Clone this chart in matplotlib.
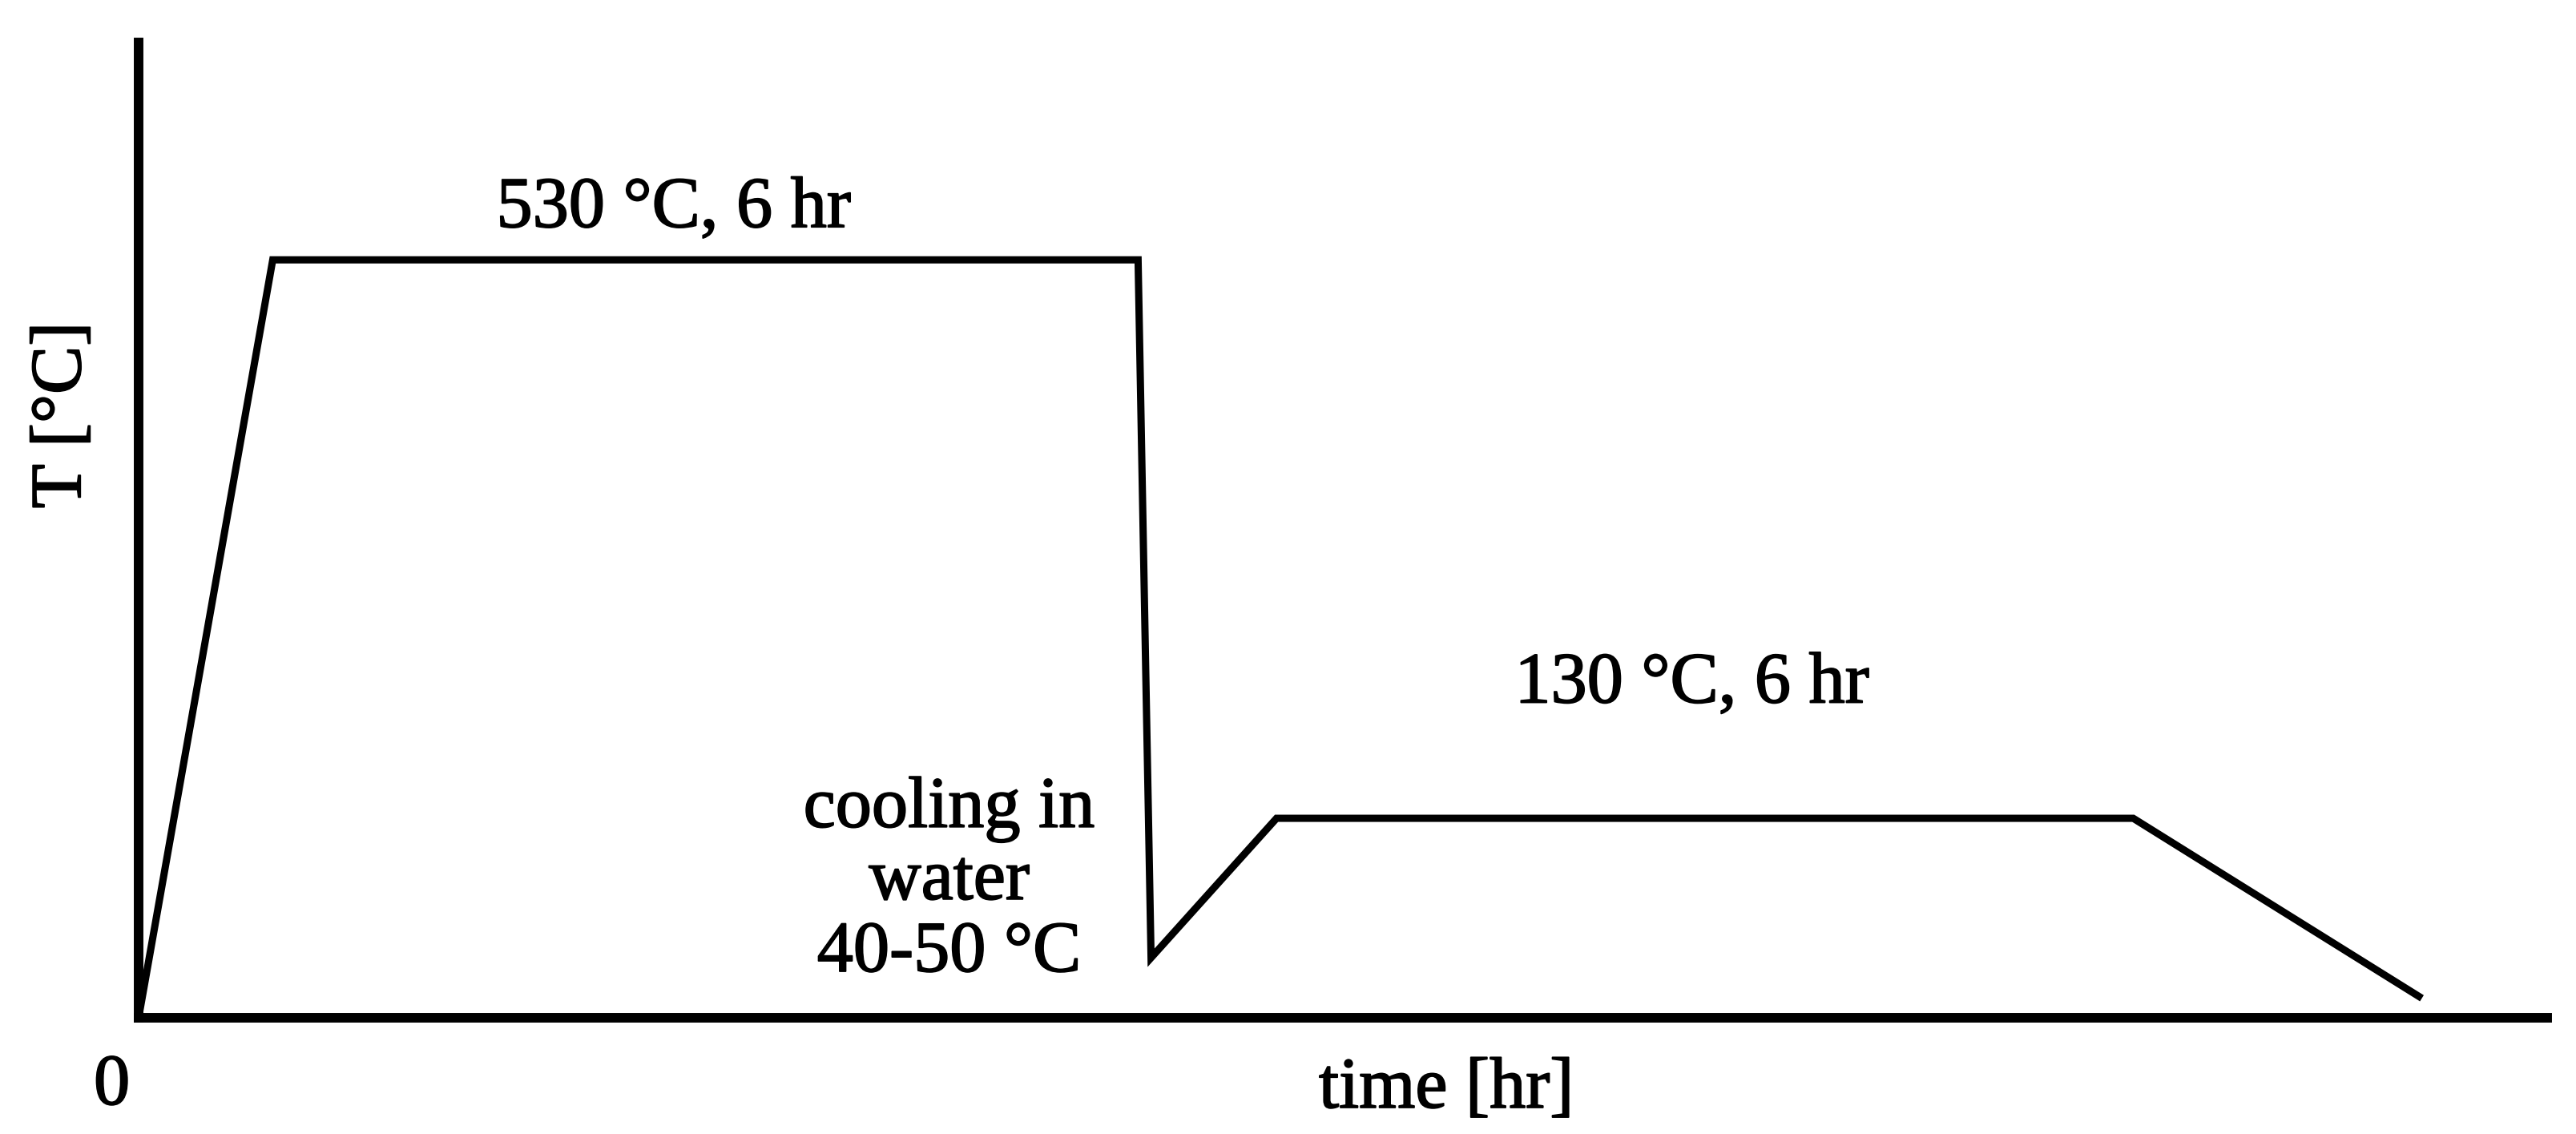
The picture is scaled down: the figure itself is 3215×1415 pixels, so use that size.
import matplotlib
matplotlib.use("Agg")
import matplotlib.pyplot as plt
import matplotlib.patheffects as pe

# schematic heat-treatment cycle
time_hr = [0, 0.93, 6.93, 7.02, 7.89, 13.83, 15.81]
temp_c = [0, 530, 530, 42, 139.5, 139.5, 15]

x_max = 16.7
y_max = 682

plt.rcParams['font.family'] = ['Liberation Serif', 'DejaVu Serif']
fs = 65
# the reference text looks a little heavier than plain regular
bold_ish = [pe.withStroke(linewidth=1.3, foreground='black')]

fig = plt.figure(figsize=(32.15, 14.15), dpi=100)
ax = fig.add_axes([173 / 3215, 145 / 1415, 3006 / 3215, 1217 / 1415])

ax.plot(time_hr, temp_c, color='black', lw=6.5, solid_joinstyle='miter', clip_on=False)

ax.set_xlim(0, x_max)
ax.set_ylim(0, y_max)
for s in ['top', 'right']:
    ax.spines[s].set_visible(False)
for s in ['left', 'bottom']:
    ax.spines[s].set_linewidth(8.6)
ax.set_xticks([])
ax.set_yticks([])

xl = ax.set_xlabel('time [hr]', fontsize=fs, va='baseline')
ax.xaxis.set_label_coords(0.543, -0.092)
yl = ax.set_ylabel('T [°C]', fontsize=fs, ha='center', va='center')
ax.yaxis.set_label_coords(-0.0316, 0.618)
xl.set_path_effects(bold_ish)
yl.set_path_effects(bold_ish)

ax.text(-0.06, -60.5, '0', fontsize=fs, ha='right', va='baseline', clip_on=False,
        path_effects=bold_ish)

ax.text(3.71, 553, '530 °C, 6 hr', fontsize=fs, ha='center', va='baseline',
        path_effects=bold_ish)
ax.text(10.77, 220.5, '130 °C, 6 hr', fontsize=fs, ha='center', va='baseline',
        path_effects=bold_ish)
ax.text(5.62, 32.5, 'cooling in\nwater\n40-50 °C', fontsize=fs, ha='center',
        va='baseline', multialignment='center', linespacing=1.12,
        path_effects=bold_ish)

fig.savefig('out.png', dpi=100)
